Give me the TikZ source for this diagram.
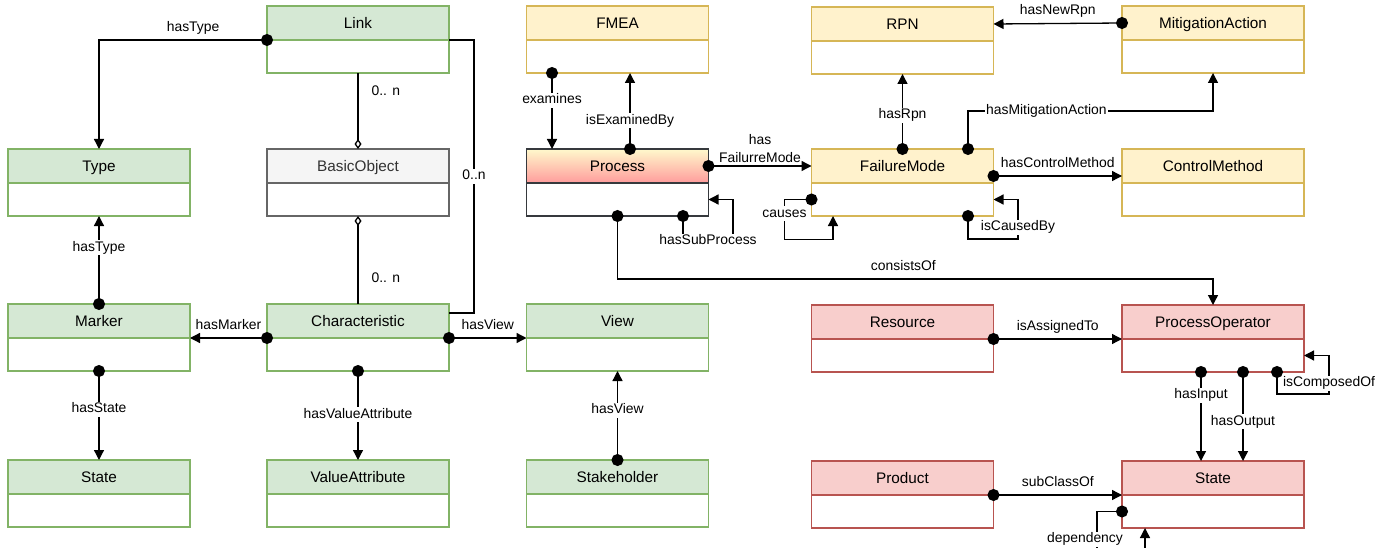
\documentclass[tikz,border=0pt]{standalone}
\usepackage{fontspec}
\setmainfont{Liberation Sans}
\usetikzlibrary{positioning,arrows.meta}
\definecolor{grfill}{HTML}{D5E8D4}
\definecolor{grline}{HTML}{82B366}
\definecolor{ylfill}{HTML}{FFF2CC}
\definecolor{ylline}{HTML}{D6B656}
\definecolor{rdfill}{HTML}{F8CECC}
\definecolor{rdline}{HTML}{B85450}
\definecolor{gyfill}{HTML}{F5F5F5}
\definecolor{gyline}{HTML}{666666}
\definecolor{gytext}{HTML}{333333}
\definecolor{prtop}{HTML}{FFF9CC}
\definecolor{prbot}{HTML}{FF9C9C}
\definecolor{prline}{HTML}{36393D}
\begin{document}
\begin{tikzpicture}[x=1pt,y=-1pt,
    hd/.style={rectangle,minimum width=182pt,minimum height=34pt,inner sep=0pt,outer sep=0pt,
      line width=1.2pt,text height=11pt,text depth=0pt,font=\fontsize{15.3}{18}\selectfont},
    bd/.style={rectangle,minimum width=182pt,minimum height=33pt,inner sep=0pt,outer sep=0pt,
      line width=1.2pt,fill=white,below=0pt of #1},
    gn/.style={hd,fill=grfill,draw=grline},
    yl/.style={hd,fill=ylfill,draw=ylline},
    rd/.style={hd,fill=rdfill,draw=rdline},
    rel/.style={line width=1.3pt,{Circle[length=12pt]}-{Triangle[length=10pt,width=10pt]},shorten <=-6pt},
    agg/.style={line width=1.3pt,{Diamond[open,length=10pt,width=7pt]}-},
    plain/.style={line width=1.3pt},
    lab/.style={font=\fontsize{13.9}{16}\selectfont,fill=white,inner sep=1pt,text height=10pt,text depth=3pt},
    labtop/.style={lab,fill=none,above=4pt}]
  \clip (0,0) rectangle (1391,548);
  \node[gn] (link) at (358,23) {Link};
  \node[bd=link,draw=grline] (link-b) {};
  \node[gn] (type) at (99,166) {Type};
  \node[bd=type,draw=grline] (type-b) {};
  \node[hd,fill=gyfill,draw=gyline,text=gytext] (basic) at (358,166) {BasicObject};
  \node[bd=basic,draw=gyline] (basic-b) {};
  \node[gn] (marker) at (99,321) {Marker};
  \node[bd=marker,draw=grline] (marker-b) {};
  \node[gn] (char) at (358,321) {Characteristic};
  \node[bd=char,draw=grline] (char-b) {};
  \node[gn] (view) at (617.5,321) {View};
  \node[bd=view,draw=grline] (view-b) {};
  \node[gn] (state) at (99,477) {State};
  \node[bd=state,draw=grline] (state-b) {};
  \node[gn] (valattr) at (358,477) {ValueAttribute};
  \node[bd=valattr,draw=grline] (valattr-b) {};
  \node[gn] (stake) at (617.5,477) {Stakeholder};
  \node[bd=stake,draw=grline] (stake-b) {};
  \node[yl] (fmea) at (617.5,23) {FMEA};
  \node[bd=fmea,draw=ylline] (fmea-b) {};
  \node[hd,top color=prtop,bottom color=prbot,draw=prline] (proc) at (617.5,166) {Process};
  \node[bd=proc,draw=prline] (proc-b) {};
  \node[yl] (rpn) at (902.5,24) {RPN};
  \node[bd=rpn,draw=ylline] (rpn-b) {};
  \node[yl] (mit) at (1213,23) {MitigationAction};
  \node[bd=mit,draw=ylline] (mit-b) {};
  \node[yl] (fm) at (902.5,166) {FailureMode};
  \node[bd=fm,draw=ylline] (fm-b) {};
  \node[yl] (cm) at (1213,166) {ControlMethod};
  \node[bd=cm,draw=ylline] (cm-b) {};
  \node[rd] (res) at (902.5,322) {Resource};
  \node[bd=res,draw=rdline] (res-b) {};
  \node[rd] (po) at (1213,322) {ProcessOperator};
  \node[bd=po,draw=rdline] (po-b) {};
  \node[rd] (prod) at (902.5,478) {Product};
  \node[bd=prod,draw=rdline] (prod-b) {};
  \node[rd] (rstate) at (1213,478) {State};
  \node[bd=rstate,draw=rdline] (rstate-b) {};

  \draw[rel] (link.south west) -| node[labtop,pos=0.22] {hasType} (type.north);
  \draw[agg] (basic.north) -- node[lab,fill=none,right=12pt,pos=0.75] {0.. n} (link-b.south);
  \draw[plain] (link.south east) -- ++(25,0) |- node[lab,pos=0.25] {0..n} ([yshift=8pt]char.east);
  \draw[agg] (basic-b.south) -- node[lab,fill=none,right=12pt,pos=0.72] {0.. n} (char.north);
  \draw[rel] (marker.north) -- node[lab,pos=0.64] {hasType} (type-b.south);
  \draw[rel] (char.south west) -- node[labtop] {hasMarker} (marker.south east);
  \draw[rel] (char.south east) -- node[labtop] {hasView} (view.south west);
  \draw[rel] (marker-b.south) -- node[lab,pos=0.43] {hasState} (state.north);
  \draw[rel] (char-b.south) -- node[lab,pos=0.49] {hasValueAttribute} (valattr.north);
  \draw[rel] (stake.north) -- node[lab,pos=0.56] {hasView} (view-b.south);

  \draw[rel] ([xshift=-65.5pt]fmea-b.south) -- node[lab,pos=0.36] {examines} ([xshift=-65.5pt]proc.north);
  \draw[rel] ([xshift=12.5pt]proc.north) -- node[lab,pos=0.37] {isExaminedBy} ([xshift=12.5pt]fmea-b.south);
  \draw[rel] (proc.east) -- node[lab,fill=none,above=2pt,align=center,text height=,text depth=,
    font=\fontsize{13.9}{18}\selectfont] {has\\FailurreMode} (fm.west);
  \draw[rel] ([xshift=65.5pt]proc-b.south) -- ++(0,25) -- node[lab] {hasSubProcess} ++(50,0) |- (proc-b.east);
  \draw[rel] (proc-b.south) -- ++(0,63) -| node[labtop,pos=0.24] {consistsOf} (po.north);
  \draw[rel] (fm.north) -- node[lab,pos=0.45] {hasRpn} (rpn-b.south);
  \draw[rel] ([xshift=65.5pt]fm.north) -- ++(0,-38) -| node[lab,pos=0.16] {hasMitigationAction} (mit-b.south);
  \draw[rel] (mit.west) -- node[labtop] {hasNewRpn} (rpn.east);
  \draw[rel] ([yshift=-10pt]fm.east) -- node[labtop] {hasControlMethod} ([yshift=-10pt]cm.west);
  \draw[rel] (fm-b.west) -- ++(-27,0) -- node[lab,pos=0.35] {causes} ++(0,40) -| ([xshift=-69.5pt]fm-b.south);
  \draw[rel] ([xshift=65.5pt]fm-b.south) -- ++(0,23) -- ++(50,0) |- node[lab,pos=0.15] {isCausedBy} (fm-b.east);

  \draw[rel] (res.south east) -- node[labtop] {isAssignedTo} (po.south west);
  \draw[rel] ([xshift=-12pt]po-b.south) -- node[lab,pos=0.26] {hasInput} ([xshift=-12pt]rstate.north);
  \draw[rel] ([xshift=30pt]po-b.south) -- node[lab,pos=0.56] {hasOutput} ([xshift=30pt]rstate.north);
  \draw[rel] ([xshift=64pt]po-b.south) -- ++(0,22) -- ++(52,0) |- node[lab,pos=0.14] {isComposedOf} (po-b.east);
  \draw[rel] (prod.south east) -- node[labtop] {subClassOf} (rstate.south west);
  \draw[rel] (rstate-b.west) -- ++(-25,0) -- node[lab,pos=0.62,xshift=-12pt] {dependency} ++(0,45) -| ([xshift=-68pt]rstate-b.south);
\end{tikzpicture}
\end{document}
